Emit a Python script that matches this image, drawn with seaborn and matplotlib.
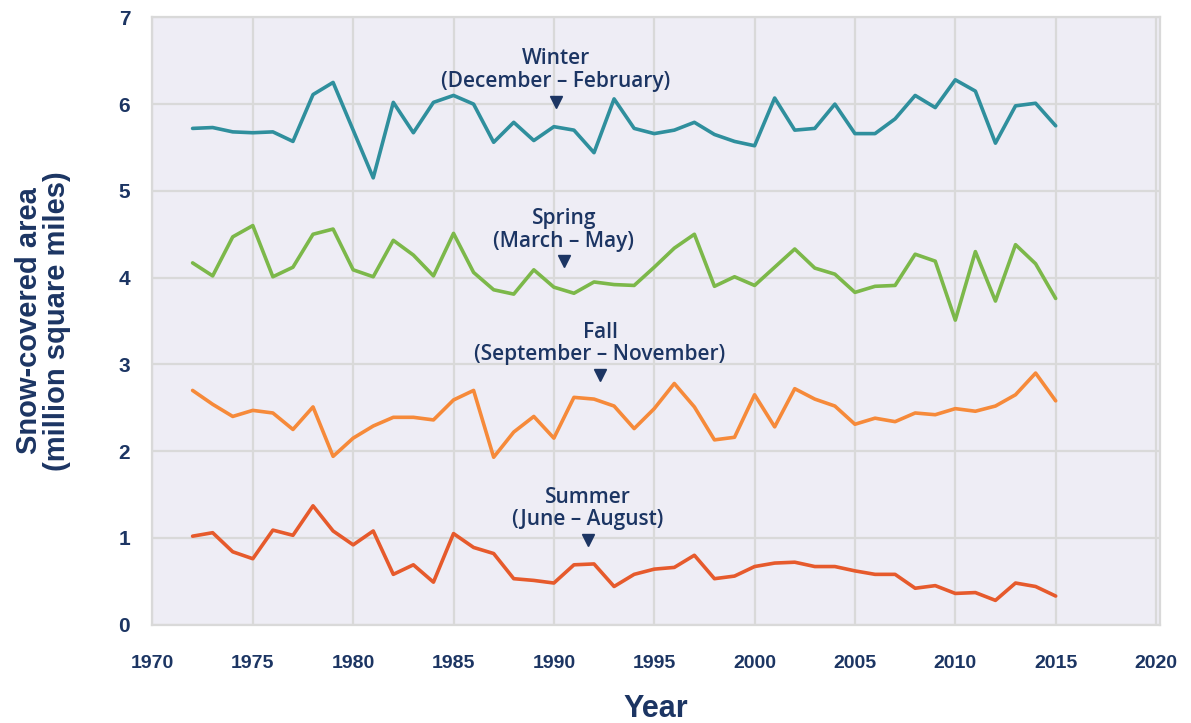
import matplotlib
matplotlib.use("Agg")
import matplotlib.pyplot as plt
import seaborn as sns
import numpy as np
import pandas as pd

# Snow-covered area, North America, by season (million square miles)
years = list(range(1972, 2016))

winter = [5.72, 5.73, 5.68, 5.67, 5.68, 5.57, 6.11, 6.25, 5.70, 5.15,
          6.02, 5.67, 6.02, 6.10, 6.00, 5.56, 5.79, 5.58, 5.74, 5.70,
          5.44, 6.06, 5.72, 5.66, 5.70, 5.79, 5.65, 5.57, 5.52, 6.07,
          5.70, 5.72, 6.00, 5.66, 5.66, 5.83, 6.10, 5.96, 6.28, 6.15,
          5.55, 5.98, 6.01, 5.75]

spring = [4.17, 4.02, 4.47, 4.60, 4.01, 4.12, 4.50, 4.56, 4.09, 4.01,
          4.43, 4.26, 4.02, 4.51, 4.06, 3.86, 3.81, 4.09, 3.89, 3.82,
          3.95, 3.92, 3.91, 4.12, 4.34, 4.50, 3.90, 4.01, 3.91, 4.12,
          4.33, 4.11, 4.04, 3.83, 3.90, 3.91, 4.27, 4.19, 3.51, 4.30,
          3.73, 4.38, 4.16, 3.76]

fall = [2.70, 2.54, 2.40, 2.47, 2.44, 2.25, 2.51, 1.94, 2.15, 2.29,
        2.39, 2.39, 2.36, 2.59, 2.70, 1.93, 2.22, 2.40, 2.15, 2.62,
        2.60, 2.52, 2.26, 2.49, 2.78, 2.51, 2.13, 2.16, 2.65, 2.28,
        2.72, 2.60, 2.52, 2.31, 2.38, 2.34, 2.44, 2.42, 2.49, 2.46,
        2.52, 2.65, 2.90, 2.58]

summer = [1.02, 1.06, 0.84, 0.76, 1.09, 1.03, 1.37, 1.08, 0.92, 1.08,
          0.58, 0.69, 0.49, 1.05, 0.89, 0.82, 0.53, 0.51, 0.48, 0.69,
          0.70, 0.44, 0.58, 0.64, 0.66, 0.80, 0.53, 0.56, 0.67, 0.71,
          0.72, 0.67, 0.67, 0.62, 0.58, 0.58, 0.42, 0.45, 0.36, 0.37,
          0.28, 0.48, 0.44, 0.33]

seasons = ["Winter", "Spring", "Fall", "Summer"]
season_labels = {
    "Winter": "Winter\n(December \u2013 February)",
    "Spring": "Spring\n(March \u2013 May)",
    "Fall": "Fall\n(September \u2013 November)",
    "Summer": "Summer\n(June \u2013 August)",
}
x_ticks = list(range(1970, 2021, 5))
y_ticks = list(range(0, 8))

df = pd.DataFrame({
    "Year": years * 4,
    "Area": winter + spring + fall + summer,
    "Season": np.repeat(seasons, len(years)),
})

NAVY = "#1c3563"
palette = {"Winter": "#2f8f9d", "Spring": "#7cb84a",
           "Fall": "#f68a3a", "Summer": "#e65a2c"}

sns.set_theme(style="darkgrid")
plt.rcParams["font.family"] = ["Liberation Sans", "DejaVu Sans"]

fig = plt.figure(figsize=(11.91, 7.23), dpi=100)
ax = fig.add_axes([0.128, 0.136, 0.846, 0.840])
ax.set_facecolor("#eeedf5")

sns.lineplot(data=df, x="Year", y="Area", hue="Season", palette=palette,
             linewidth=2.6, legend=False, ax=ax)

ax.grid(True, color="#d9d9d9", linewidth=1.6)
for s in ax.spines.values():
    s.set_visible(True)
    s.set_color("#d9d9d9")
    s.set_linewidth(1.6)

ax.set_xlim(1970, 2020.2)
ax.set_ylim(0, 7)
ax.set_xticks(x_ticks)
ax.set_yticks(y_ticks)
ax.tick_params(axis="x", pad=22, labelsize=14, colors=NAVY, length=0)
ax.tick_params(axis="y", pad=16, labelsize=15, colors=NAVY, length=0)
for lab in ax.get_xticklabels() + ax.get_yticklabels():
    lab.set_fontweight("bold")

ax.set_xlabel("Year", fontsize=22, fontweight="bold", color=NAVY, labelpad=16)
ax.set_ylabel("Snow-covered area\n(million square miles)", fontsize=21,
              fontweight="bold", color=NAVY, labelpad=34, linespacing=1.0)

# season labels with small down-pointing arrowheads
label_pos = {"Winter": (1990.1, 6.14), "Spring": (1990.5, 4.30),
             "Fall": (1992.3, 2.99), "Summer": (1991.7, 1.09)}
for name, (lx, ly) in label_pos.items():
    ax.text(lx, ly, season_labels[name], ha="center", va="bottom",
            fontsize=15, color=NAVY, linespacing=1.1,
            family=["Open Sans", "DejaVu Sans"], fontweight="semibold")
    ax.plot(lx, ly - 0.11, marker="v", markersize=8, color=NAVY)

plt.savefig("out.png", dpi=100)
plt.close()
